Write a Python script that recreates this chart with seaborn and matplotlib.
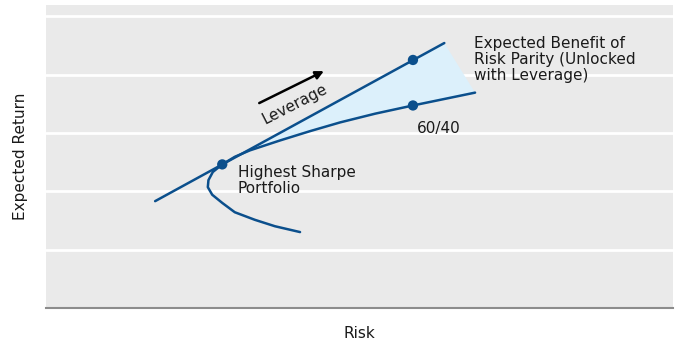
import numpy as np
import seaborn as sns
import matplotlib.pyplot as plt

# Efficient frontier (risk, return); lower end -> upper end
frontier_risk = [4.05, 3.65, 3.33, 3.01, 2.81, 2.65, 2.58, 2.59, 2.66, 2.81,
                 3.01, 3.25, 3.73, 4.21, 4.69, 5.25, 5.85, 6.84]
frontier_ret = [1.30, 1.40, 1.51, 1.64, 1.80, 1.94, 2.07, 2.19, 2.33, 2.46,
                2.59, 2.70, 2.87, 3.03, 3.18, 3.33, 3.47, 3.69]

# Capital market (leverage) line
cml_risk = [1.74, 6.35]
cml_ret = [1.83, 4.54]

# Marked portfolios
point_names = ['Highest Sharpe', 'Levered', '60/40']
point_risk = [2.81, 5.85, 5.85]
point_ret = [2.46, 4.25, 3.47]

blue = '#0b4f8c'
ink = '#1a1a1a'

sns.set_theme(style='darkgrid', rc={
    'axes.facecolor': '#eaeaea',
    'grid.color': 'white',
    'grid.linewidth': 2,
})
plt.rcParams['font.family'] = ['DejaVu Sans']

fig, ax = plt.subplots(figsize=(6.76, 3.41), dpi=100)
fig.subplots_adjust(left=0.068, right=0.996, bottom=0.097, top=0.985)

# Shaded "benefit" wedge between the leverage line and the frontier
tip = frontier_ret.index(point_ret[0])
wedge_x = [point_risk[0], cml_risk[1]] + frontier_risk[:tip:-1]
wedge_y = [point_ret[0], cml_ret[1]] + frontier_ret[:tip:-1]
ax.fill(wedge_x, wedge_y, color='#dcf0fb', zorder=2, lw=0)

sns.lineplot(x=cml_risk, y=cml_ret, ax=ax, color=blue, lw=1.8, estimator=None, zorder=3)
sns.lineplot(x=frontier_risk, y=frontier_ret, ax=ax, color=blue, lw=1.8, sort=False,
             estimator=None, zorder=3)
sns.scatterplot(x=point_risk, y=point_ret, ax=ax, color=blue, s=55, edgecolor='none', zorder=4)

# Leverage arrow
ax.annotate('', xy=(4.47, 4.08), xytext=(3.36, 3.49),
            arrowprops=dict(arrowstyle='-|>', color='black', lw=1.8, mutation_scale=12))
ax.text(3.97, 3.50, 'Leverage', rotation=27, ha='center', va='center', fontsize=11, color=ink)

ax.text(3.06, 2.19, 'Highest Sharpe\nPortfolio', ha='left', va='center', fontsize=11,
        color=ink, linespacing=1.1)
ax.text(5.92, 3.08, '60/40', ha='left', va='center', fontsize=11, color=ink)
ax.text(6.83, 4.26, 'Expected Benefit of\nRisk Parity (Unlocked\nwith Leverage)', ha='left',
        va='center', fontsize=11, color=ink, linespacing=1.1)

ax.set_xlim(0, 10)
ax.set_ylim(0, 5.19)
ax.set_yticks([1, 2, 3, 4, 5])
ax.set_xticks([])
ax.tick_params(axis='y', labelleft=False, length=0)
ax.grid(axis='x', visible=False)
ax.set_xlabel('Risk', fontsize=11, color=ink, labelpad=13)
ax.set_ylabel('Expected Return', fontsize=11, color=ink, labelpad=13)

for side in ['left', 'right', 'top']:
    ax.spines[side].set_visible(False)
ax.spines['bottom'].set_visible(True)
ax.spines['bottom'].set_color('#8c8c8c')
ax.spines['bottom'].set_linewidth(1.5)

fig.savefig('out.png', dpi=100)
